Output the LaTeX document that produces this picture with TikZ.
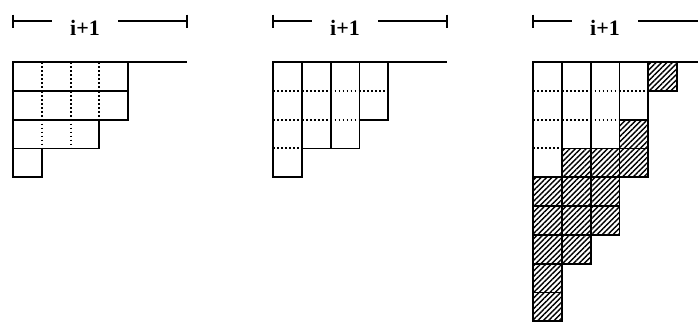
\documentclass[tikz,border=0pt]{standalone}
\usepackage{fontspec}
\setmainfont{Liberation Serif}
\usetikzlibrary{patterns.meta}
\begin{document}
\begin{tikzpicture}[x=14.4pt, y=-14.4pt,
  cell/.style={draw, line width=0.9pt},
  hatched/.style={cell, pattern={Lines[angle=45,distance=1.9pt,line width=0.7pt]}},
  dots/.style={line width=1pt, dash pattern=on 0.9pt off 1.1pt},
  len/.style={font=\fontsize{11}{13}\selectfont\bfseries, inner xsep=9pt, inner ysep=1pt},
  dim/.style={line width=0.8pt}
]
  \useasboundingbox (0,0) rectangle (24.236,11.146);

  % width labels
  \foreach \ox/\nm in {0.451/a,9.479/b,18.507/c}{
    \coordinate (\nm-l) at (\ox,0.73);
    \coordinate (\nm-r) at (\ox+6.04,0.73);
    \node[len] (\nm) at (\ox+2.5,0.97) {i+1};
    \draw[dim] (\nm-l) ++(0,-0.22) -- ++(0,0.45);
    \draw[dim] (\nm-r) ++(0,-0.22) -- ++(0,0.45);
    \draw[dim] (\nm-l) -- (\nm-l -| \nm.west);
    \draw[dim] (\nm.east |- \nm-r) -- (\nm-r);
  }

  % rows
  \begin{scope}[shift={(0.451,2.153)}]
    \draw[cell] (0,0) -- (6.04,0);
    \foreach \len [count=\r from 0] in {4,4,3,1}{
      \draw[cell] (0,\r) rectangle (\len,\r+1);
      \foreach \c in {1,...,3}{
        \ifnum\c<\len \draw[dots] (\c,\r) -- (\c,\r+1); \fi
      }
    }
  \end{scope}

  % columns
  \begin{scope}[shift={(9.479,2.153)}]
    \draw[cell] (0,0) -- (6.04,0);
    \foreach \len [count=\c from 0] in {4,3,3,2}{
      \draw[cell] (\c,0) rectangle (\c+1,\len);
      \foreach \r in {1,...,3}{
        \ifnum\r<\len \draw[dots] (\c,\r) -- (\c+1,\r); \fi
      }
    }
  \end{scope}

  % columns with hatched part
  \begin{scope}[shift={(18.507,2.153)}]
    \draw[cell] (0,0) -- (6.04,0);
    \foreach \h/\w [count=\c from 0] in {9/4,7/3,6/3,4/2,1/0}{
      \ifnum\w>0 \draw[cell] (\c,0) rectangle (\c+1,\w); \fi
      \foreach \r in {1,...,3}{
        \ifnum\r<\w \draw[dots] (\c,\r) -- (\c+1,\r); \fi
      }
      \pgfmathtruncatemacro\last{\h-1}
      \foreach \r in {\w,...,\last}
        \draw[hatched] (\c,\r) rectangle ++(1,1);
    }
  \end{scope}
\end{tikzpicture}
\end{document}
